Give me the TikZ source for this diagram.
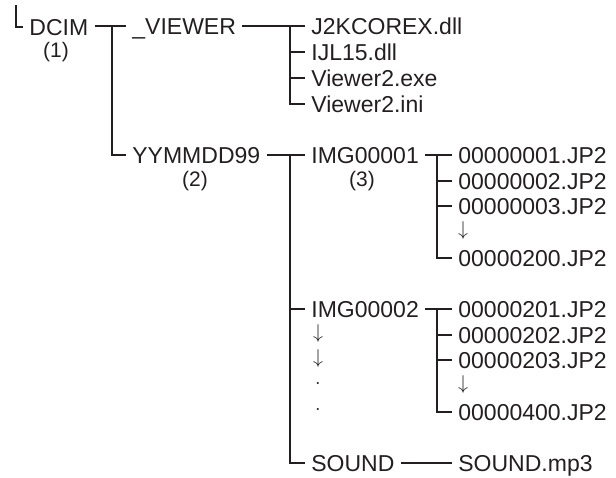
\documentclass[tikz,border=0pt]{standalone}
\usepackage{fontspec}
\setmainfont{Liberation Sans}
\definecolor{ink}{RGB}{35,31,32}
\tikzset{
  entry/.style={anchor=west, inner xsep=3pt, inner ysep=0pt, text height=8.2pt, text depth=0pt, font=\fontsize{11.5}{13}\selectfont, text=ink},
  note/.style={inner sep=0pt, font=\fontsize{10.5}{12}\selectfont, text=ink},
  more/.style={inner sep=0pt, text height=4pt, text depth=2pt, font=\fontsize{10}{12}\selectfont, text=ink},
  branch/.style={draw=ink, line width=1.15pt},
}
\begin{document}
\begin{tikzpicture}[x=0.5pt, y=-0.5pt]
  \useasboundingbox (0,0) rectangle (616,477);
  % folders
  \node[entry] (dcim) at (23,27) {DCIM};
  \node[note] (n1) at (56,52) {(1)};
  \node[entry] (viewer) at (126,26) {\_VIEWER};
  \node[entry] (yymmdd) at (126,155) {YYMMDD99};
  \node[note] (n2) at (195,181) {(2)};
  \node[entry] (img1) at (305,155) {IMG00001};
  \node[note] (n3) at (362,181) {(3)};
  \node[entry] (img2) at (305,309) {IMG00002};
  \node[entry] (sound) at (305,463) {SOUND};
  % files
  \foreach \n/\t/\y in {j2k/J2KCOREX.dll/26, ijl/IJL15.dll/52, exe/Viewer2.exe/78, ini/Viewer2.ini/104}
    \node[entry] (\n) at (305,\y) {\t};
  \foreach \n/\t/\y in {fa/00000001/155, fb/00000002/181, fc/00000003/206, fd/00000200/258,
                        ga/00000201/309, gb/00000202/335, gc/00000203/360, gd/00000400/412}
    \node[entry] (\n) at (452,\y) {\t.JP2};
  \node[entry] (mp3) at (452,463) {SOUND.mp3};
  \node[more] (fdots) at (463,233) {$\downarrow$};
  \node[more] (gdots) at (463,387) {$\downarrow$};
  \node[more] (ia) at (318,336) {$\downarrow$};
  \node[more] (ib) at (318,361) {$\downarrow$};
  \node[more] (ic) at (318,386) {$\cdot$};
  \node[more] (id) at (318,412) {$\cdot$};
  % branches
  \coordinate (top) at (16,5);
  \coordinate (dj) at (112,26);
  \coordinate (vj) at (290,26);
  \coordinate (yj) at (290,155);
  \coordinate (fj) at (437,155);
  \coordinate (gj) at (437,309);
  \draw[branch] (top) |- (dcim.west);
  \draw[branch] (dcim.east |- viewer.west) -- (viewer.west);
  \draw[branch] (dj) |- (yymmdd.west);
  \draw[branch] (viewer.east) -- (j2k.west);
  \draw[branch] (vj) |- (ini.west);
  \foreach \n in {ijl,exe} \draw[branch] (vj |- \n.west) -- (\n.west);
  \draw[branch] (yymmdd.east) -- (img1.west);
  \draw[branch] (yj) |- (sound.west);
  \draw[branch] (yj |- img2.west) -- (img2.west);
  \draw[branch] (img1.east) -- (fa.west);
  \draw[branch] (fj) |- (fd.west);
  \foreach \n in {fb,fc} \draw[branch] (fj |- \n.west) -- (\n.west);
  \draw[branch] (img2.east) -- (ga.west);
  \draw[branch] (gj) |- (gd.west);
  \foreach \n in {gb,gc} \draw[branch] (gj |- \n.west) -- (\n.west);
  \draw[branch] (sound.east) -- (mp3.west);
\end{tikzpicture}
\end{document}
